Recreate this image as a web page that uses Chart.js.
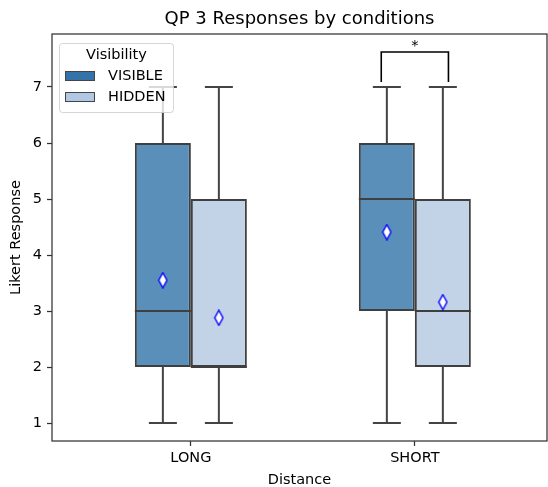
<!DOCTYPE html>
<html>
<head>
<meta charset="utf-8">
<script src="https://cdn.jsdelivr.net/npm/chart.js@4.4.0/dist/chart.umd.min.js"></script>
<style>
  html, body { margin: 0; padding: 0; background: #fff; overflow: hidden; }
  canvas { display: block; }
</style>
</head>
<body>
<canvas id="qpChart" width="548" height="487"></canvas>
<script>
const categories = ["LONG", "SHORT"];
const hueNames = ["VISIBLE", "HIDDEN"];

// box summaries, one value per category
const visibleLow = [1, 1];
const visibleQ1 = [2, 3];
const visibleMedian = [3, 5];
const visibleQ3 = [6, 6];
const visibleHigh = [7, 7];
const visibleMean = [3.55, 4.41];

const hiddenLow = [1, 1];
const hiddenQ1 = [2, 2];
const hiddenMedian = [2, 3];
const hiddenQ3 = [5, 5];
const hiddenHigh = [7, 7];
const hiddenMean = [2.88, 3.16];

const yTicks = [1, 2, 3, 4, 5, 6, 7];

// significance annotation (category index + label)
const sigCategory = 1;
const sigLabel = "*";

const FONT = "'DejaVu Sans', sans-serif";
const TXT = 14.5;
const EDGE = "#3f3f3f";
const HUE_OFFSET = 0.125;   // half of one box width, in category units
const CAP_HALF = 0.0625;
const BRACKET_BASE = 7.09;
const BRACKET_TOP = 7.625;
const BRACKET_HALF = 0.15;

const groups = [
    { name: hueNames[0], low: visibleLow, q1: visibleQ1, med: visibleMedian, q3: visibleQ3, high: visibleHigh, mean: visibleMean,
      offset: -HUE_OFFSET, fill: "#5a8fb9", patch: "#3473aa" },
    { name: hueNames[1], low: hiddenLow, q1: hiddenQ1, med: hiddenMedian, q3: hiddenQ3, high: hiddenHigh, mean: hiddenMean,
      offset: HUE_OFFSET, fill: "#c2d2e7", patch: "#b0c8e3" }
];

// whiskers + caps, and medians, as broken line segments
const whiskerPts = [];
const medianPts = [];
const meanPts = [];
groups.forEach(g => {
    categories.forEach((c, i) => {
        const cx = i + g.offset;
        whiskerPts.push({ x: cx, y: g.low[i] }, { x: cx, y: g.q1[i] }, { x: cx, y: null });
        whiskerPts.push({ x: cx, y: g.q3[i] }, { x: cx, y: g.high[i] }, { x: cx, y: null });
        whiskerPts.push({ x: cx - CAP_HALF, y: g.low[i] }, { x: cx + CAP_HALF, y: g.low[i] }, { x: cx, y: null });
        whiskerPts.push({ x: cx - CAP_HALF, y: g.high[i] }, { x: cx + CAP_HALF, y: g.high[i] }, { x: cx, y: null });
        medianPts.push({ x: cx - HUE_OFFSET, y: g.med[i] }, { x: cx + HUE_OFFSET, y: g.med[i] }, { x: cx, y: null });
        meanPts.push({ x: cx, y: g.mean[i] });
    });
});

const bracketPts = [
    { x: sigCategory - BRACKET_HALF, y: BRACKET_BASE },
    { x: sigCategory - BRACKET_HALF, y: BRACKET_TOP },
    { x: sigCategory + BRACKET_HALF, y: BRACKET_TOP },
    { x: sigCategory + BRACKET_HALF, y: BRACKET_BASE }
];

// thin diamond marker for the means
function makeDiamond() {
    const c = document.createElement("canvas");
    c.width = 11; c.height = 17;
    const g = c.getContext("2d");
    g.beginPath();
    g.moveTo(5.5, 1); g.lineTo(9.6, 8.5); g.lineTo(5.5, 16); g.lineTo(1.4, 8.5); g.closePath();
    g.fillStyle = "#ffffff"; g.fill();
    g.strokeStyle = "#0000ff"; g.lineWidth = 1.4; g.stroke();
    return c;
}

const framePlugin = {
    id: "frame",
    afterDatasetsDraw(chart) {
        const { ctx, chartArea: a, scales } = chart;
        ctx.save();
        ctx.strokeStyle = "#333";
        ctx.lineWidth = 1.25;
        ctx.strokeRect(a.left, a.top, a.right - a.left, a.bottom - a.top);
        // significance label
        ctx.fillStyle = "#000";
        ctx.font = TXT + "px " + FONT;
        ctx.textAlign = "center";
        ctx.textBaseline = "alphabetic";
        ctx.fillText(sigLabel, scales.x.getPixelForValue(sigCategory), scales.y.getPixelForValue(BRACKET_TOP) - 2);
        ctx.restore();
    }
};

const legendPlugin = {
    id: "boxLegend",
    afterDraw(chart) {
        const { ctx, chartArea: a } = chart;
        const x0 = a.left + 7, y0 = a.top + 9, w = 114, h = 69;
        ctx.save();
        ctx.globalAlpha = 0.8;
        ctx.fillStyle = "#fff";
        ctx.strokeStyle = "#cccccc";
        ctx.lineWidth = 1;
        ctx.beginPath();
        ctx.roundRect(x0 + 0.5, y0 + 0.5, w, h, 3);
        ctx.fill();
        ctx.stroke();
        ctx.globalAlpha = 1;
        ctx.fillStyle = "#000";
        ctx.font = TXT + "px " + FONT;
        ctx.textBaseline = "middle";
        ctx.textAlign = "center";
        ctx.fillText("Visibility", x0 + w / 2 + 0.5, y0 + 12);
        ctx.textAlign = "left";
        groups.forEach((g, k) => {
            const py = y0 + 28 + k * 21;
            ctx.fillStyle = g.patch;
            ctx.fillRect(x0 + 6, py, 30, 10);
            ctx.strokeStyle = "#444";
            ctx.strokeRect(x0 + 6.5, py + 0.5, 29, 9);
            ctx.fillStyle = "#000";
            ctx.fillText(g.name, x0 + 49, py + 5.5);
        });
        ctx.restore();
    }
};

const datasets = [
    { type: "line", label: "mean", data: meanPts, showLine: false, pointStyle: makeDiamond(), pointRadius: 8 },
    { type: "line", label: "median", data: medianPts, borderColor: EDGE, borderWidth: 2, pointRadius: 0, borderCapStyle: "butt" },
    { type: "line", label: "whisker", data: whiskerPts, borderColor: "#444", borderWidth: 2, pointRadius: 0, borderCapStyle: "butt" },
    { type: "line", label: "bracket", data: bracketPts, borderColor: "#000", borderWidth: 1.6, pointRadius: 0 }
];
groups.forEach(g => {
    datasets.push({
        type: "bar",
        label: g.name,
        data: categories.map((c, i) => ({ x: i, y: [g.q1[i], g.q3[i]] })),
        backgroundColor: g.fill,
        borderColor: EDGE,
        borderWidth: 2,
        borderSkipped: false,
        categoryPercentage: 0.5,
        barPercentage: 1
    });
});

new Chart(document.getElementById("qpChart"), {
    type: "bar",
    data: { datasets: datasets },
    options: {
        responsive: false,
        animation: false,
        events: [],
        layout: { autoPadding: false, padding: { right: 1, left: 0, top: 0, bottom: 0 } },
        plugins: {
            legend: { display: false },
            tooltip: { enabled: false },
            title: {
                display: true,
                text: "QP 3 Responses by conditions",
                fullSize: false,
                color: "#000",
                font: { family: FONT, size: 18, weight: "normal", lineHeight: 1.2 },
                padding: { top: 9, bottom: 3.4 }
            }
        },
        scales: {
            x: {
                type: "linear",
                min: -0.62,
                max: 1.59,
                offset: false,
                afterFit: s => { s.height = 46; s.paddingLeft = 0; s.paddingRight = 0; },
                afterBuildTicks: s => { s.ticks = categories.map((c, i) => ({ value: i })); },
                ticks: {
                    color: "#000",
                    padding: 4,
                    font: { family: FONT, size: TXT },
                    callback: v => categories[v],
                    autoSkip: false,
                    maxRotation: 0
                },
                grid: { display: true, drawOnChartArea: false, offset: false, tickLength: 5, tickColor: "#333", tickWidth: 1.25 },
                border: { display: false },
                title: { display: true, text: "Distance", color: "#000", font: { family: FONT, size: TXT, lineHeight: 1 }, padding: 0 }
            },
            y: {
                min: 0.68,
                max: 7.946,
                afterFit: s => { s.width = 52; },
                afterBuildTicks: s => { s.ticks = yTicks.map(v => ({ value: v })); },
                ticks: { color: "#000", padding: 5, font: { family: FONT, size: TXT } },
                grid: { display: true, drawOnChartArea: false, tickLength: 5, tickColor: "#333", tickWidth: 1.25 },
                border: { display: false },
                title: { display: true, text: "Likert Response", color: "#000", font: { family: FONT, size: TXT, lineHeight: 1.2 }, padding: { top: 8, bottom: 0 } }
            }
        }
    },
    plugins: [framePlugin, legendPlugin]
});
</script>
</body>
</html>
